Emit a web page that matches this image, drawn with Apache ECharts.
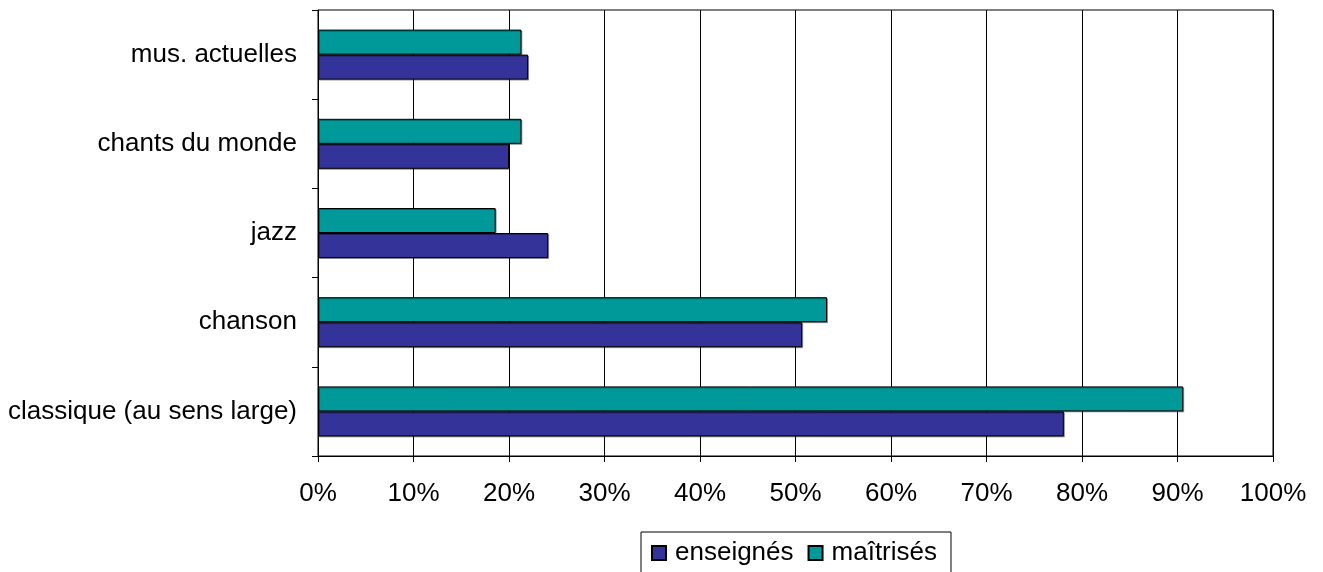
<!DOCTYPE html>
<html>
<head>
<meta charset="utf-8">
<script src="https://cdn.jsdelivr.net/npm/echarts@6/dist/echarts.min.js"></script>
<style>
html,body{margin:0;padding:0;background:#fff;}
#chart{width:1323px;height:572px;}
</style>
</head>
<body>
<div id="chart"></div>
<script>
const categories = ['classique (au sens large)', 'chanson', 'jazz', 'chants du monde', 'mus. actuelles'];
const enseignes = [78.1, 50.7, 24.1, 20.0, 22.0];
const maitrises = [90.6, 53.3, 18.6, 21.3, 21.3];
const seriesNames = ['enseignés', 'maîtrisés'];
const xTicks = { min: 0, max: 100, interval: 10 };

const FONT = '"Liberation Sans", Arial, sans-serif';
const chart = echarts.init(document.getElementById('chart'), null, { renderer: 'canvas' });

const barStyle = (color) => ({
  color: color,
  borderColor: '#000',
  borderWidth: 1,
  shadowColor: 'rgba(0,0,0,0.35)',
  shadowOffsetX: 1,
  shadowOffsetY: 1,
  shadowBlur: 0
});

chart.setOption({
  animation: false,
  backgroundColor: '#fff',
  grid: {
    left: 318, right: 50, top: 10, bottom: 116,
    show: true, borderColor: '#000', borderWidth: 1, containLabel: false
  },
  legend: {
    data: seriesNames,
    left: 641, top: 532,
    orient: 'horizontal',
    icon: 'rect',
    itemWidth: 14, itemHeight: 14, itemGap: 14,
    padding: [6, 14, 12, 10],
    borderColor: '#000', borderWidth: 1,
    textStyle: { fontFamily: FONT, fontSize: 26, color: '#000', lineHeight: 30, padding: [0, 0, 0, 4] }
  },
  xAxis: {
    type: 'value',
    min: xTicks.min, max: xTicks.max, interval: xTicks.interval,
    axisLine: { show: true, lineStyle: { color: '#000', width: 1 } },
    axisTick: { show: true, length: 6, lineStyle: { color: '#000' } },
    axisLabel: { formatter: '{value}%', fontFamily: FONT, fontSize: 26, color: '#000', margin: 25 },
    splitLine: { show: true, lineStyle: { color: '#000', width: 1 } }
  },
  yAxis: {
    type: 'category',
    data: categories,
    axisLine: { show: true, lineStyle: { color: '#000', width: 1 } },
    axisTick: { show: true, length: 6, lineStyle: { color: '#000' } },
    axisLabel: { fontFamily: FONT, fontSize: 26, color: '#000', margin: 21 },
    splitLine: { show: false }
  },
  series: [
    {
      name: seriesNames[1], type: 'bar', data: maitrises,
      barWidth: 25, barGap: '0%',
      itemStyle: barStyle('#009999')
    },
    {
      name: seriesNames[0], type: 'bar', data: enseignes,
      barWidth: 25, barGap: '0%',
      itemStyle: barStyle('#333399')
    }
  ]
});
</script>
</body>
</html>
